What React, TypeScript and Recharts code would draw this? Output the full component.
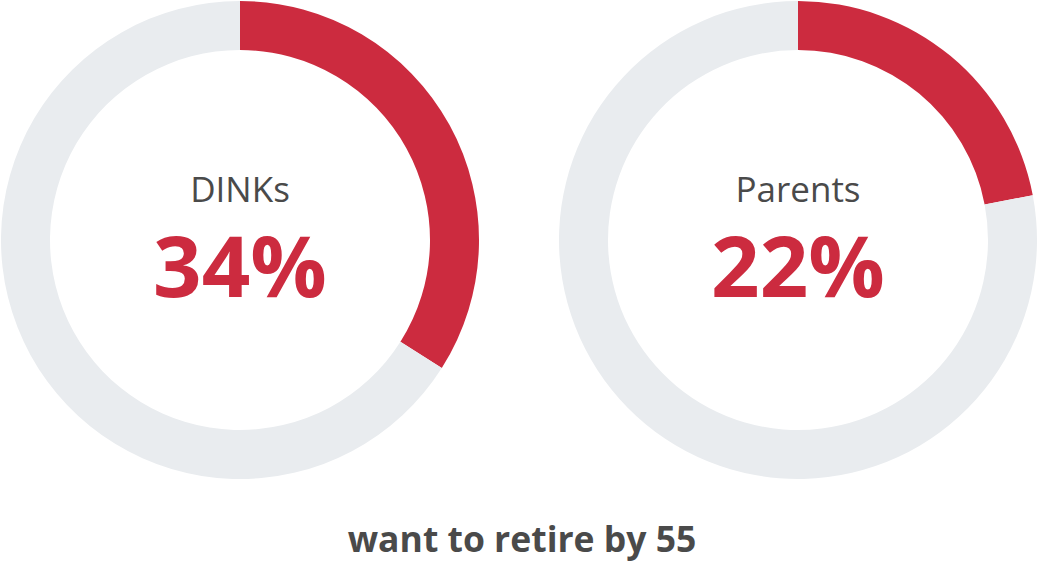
import React from "react";
import { PieChart, Pie, Cell } from "recharts";

const groups = ["DINKs", "Parents"];
const shares = [34, 22];
const caption = "want to retire by 55";

const RED = "#cc2b3f";
const GREY = "#e9ecef";
const TEXT = "#4a4a4a";
const FONT = "'Open Sans', sans-serif";

const centersX = [240, 798];

export default function App() {
  return (
    <div style={{ position: "absolute", left: 0, top: 0 }}>
      <PieChart width={1037} height={569} margin={{ top: 0, right: 0, bottom: 0, left: 0 }}>
        {groups.map((g, i) => (
          <Pie
            key={g}
            data={[
              { name: g, value: shares[i] },
              { name: "other", value: 100 - shares[i] },
            ]}
            dataKey="value"
            cx={centersX[i]}
            cy={240}
            innerRadius={190}
            outerRadius={239}
            startAngle={90}
            endAngle={-270}
            stroke="none"
            isAnimationActive={false}
          >
            <Cell fill={RED} />
            <Cell fill={GREY} />
          </Pie>
        ))}
        {groups.map((g, i) => (
          <text
            key={"l" + g}
            x={centersX[i]}
            y={202}
            textAnchor="middle"
            fontFamily={FONT}
            fontWeight={500}
            fontSize={35}
            fill={TEXT}
          >
            {g}
          </text>
        ))}
        {groups.map((g, i) => (
          <text
            key={"v" + g}
            x={centersX[i]}
            y={297}
            textAnchor="middle"
            fontFamily={FONT}
            fontWeight={700}
            fontSize={85}
            fill={RED}
          >
            {shares[i]}%
          </text>
        ))}
        <text
          x={522}
          y={552}
          textAnchor="middle"
          fontFamily={FONT}
          fontWeight={700}
          fontSize={35.5}
          fill={TEXT}
        >
          {caption}
        </text>
      </PieChart>
    </div>
  );
}
